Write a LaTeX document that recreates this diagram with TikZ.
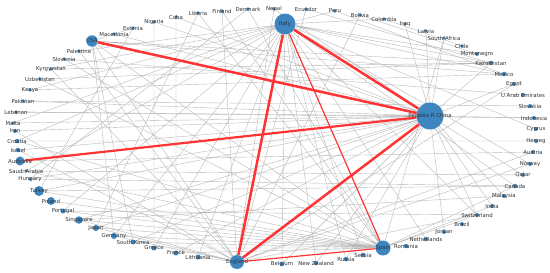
\documentclass[tikz,border=0pt]{standalone}
\usepackage{fontspec}
\setmainfont{DejaVu Sans}
\usepackage{tikz}
\usetikzlibrary{backgrounds}
\definecolor{NodeBlue}{HTML}{3D85BF}
\definecolor{EdgeGray}{HTML}{B9B9B9}
\definecolor{LinkRed}{HTML}{FF3333}
\definecolor{LabelGray}{HTML}{333333}
\tikzset{
  % country dot, size = weight
  CD/.style={circle,inner sep=0pt,fill=NodeBlue,minimum size=#1},
  CD/.default=3.6pt,
  % country label (centred on the dot)
  every label/.style={font=\fontsize{5.4}{6}\selectfont,text=LabelGray,inner sep=0pt},
  % links
  gE/.style={draw=EdgeGray,line width=0.4pt},
  rE/.style={draw=LinkRed,line width=#1},
  rE/.default=2.5pt
}

\begin{document}
\begin{tikzpicture}[x=1pt,y=-1pt]
  \useasboundingbox (0,0) rectangle (550,273);
  % top arc
  \node[CD=11.5pt,label=center:USA]        (usa)  at (92,41)  {};
  \node[CD,label=center:Macedonia]         (mace) at (114,34) {};
  \node[CD,label=center:Estonia]           (est)  at (133,28) {};
  \node[CD,label=center:Nigeria]           (nig)  at (154,22) {};
  \node[CD,label=center:Cuba]              (cuba) at (176,17) {};
  \node[CD,label=center:Liberia]           (lib)  at (198,13) {};
  \node[CD,label=center:Finland]           (fin)  at (222,11) {};
  \node[CD,label=center:Denmark]           (den)  at (248,9)  {};
  \node[CD,label=center:Nepal]             (nep)  at (274,9)  {};
  \node[CD=21pt,label=center:Italy]        (ita)  at (285,24) {};
  \node[CD,label=center:Ecuador]           (ecu)  at (306,9)  {};
  \node[CD,label=center:Peru]              (peru) at (335,11) {};
  \node[CD,label=center:Bolivia]           (bol)  at (360,15) {};
  \node[CD,label=center:Colombia]          (col)  at (384,19) {};
  \node[CD,label=center:Iraq]              (iraq) at (405,24) {};
  \node[CD,label=center:Latvia]            (lat)  at (426,31) {};
  \node[CD,label=center:South Africa]      (saf)  at (444,38) {};
  \node[CD,label=center:Chile]             (chile)at (462,46) {};
  % right arc
  \node[CD=4pt,label=center:Montenegro]    (mont) at (477,54) {};
  \node[CD=4.5pt,label=center:Kazakhstan]  (kaz)  at (491,63) {};
  \node[CD=4.5pt,label=center:Mexico]      (mex)  at (504,74) {};
  \node[CD=4pt,label=center:Egypt]         (egy)  at (514,84) {};
  \node[CD=4pt,label=center:U Arab Emirates](uae) at (523,95) {};
  \node[CD=4pt,label=center:Slovakia]      (slk)  at (530,106){};
  \node[CD=4pt,label=center:Indonesia]     (indo) at (534,118){};
  \node[CD=4pt,label=center:Cyprus]        (cyp)  at (536,129){};
  \node[CD=4pt,label=center:Herzeg]        (herz) at (536,141){};
  \node[CD=4pt,label=center:Austria]       (ausa) at (533,152){};
  \node[CD=4pt,label=center:Norway]        (nor)  at (530,164){};
  \node[CD=4pt,label=center:Qatar]         (qat)  at (523,175){};
  \node[CD=4.5pt,label=center:Canada]      (can)  at (515,186){};
  \node[CD=4pt,label=center:Malaysia]      (mal)  at (504,196){};
  \node[CD=4pt,label=center:India]         (ind)  at (492,206){};
  \node[CD=4pt,label=center:Switzerland]   (swi)  at (477,215){};
  \node[CD=4pt,label=center:Brazil]        (bra)  at (462,224){};
  \node[CD=4pt,label=center:Jordan]        (jor)  at (444,232){};
  \node[CD=4.5pt,label=center:Netherlands] (net)  at (426,239){};
  \node[CD=4.5pt,label=center:Romania]     (rom)  at (406,246){};
  \node[CD=27pt,label=center:Peoples R China](chn) at (430,116){};
  % bottom arc
  \node[CD=15pt,label=center:Spain]        (spa)  at (383,248){};
  \node[CD=4.5pt,label=center:Serbia]      (ser)  at (363,255){};
  \node[CD=4.5pt,label=center:Russia]      (rus)  at (346,259){};
  \node[CD=4.5pt,label=center:New Zealand] (nz)   at (316,263){};
  \node[CD=4.5pt,label=center:Belgium]     (bel)  at (282,264){};
  \node[CD=14pt,label=center:England]      (eng)  at (237,262){};
  \node[CD=5pt,label=center:Lithuania]     (lit)  at (198,257){};
  \node[CD=5pt,label=center:France]        (fra)  at (176,253){};
  \node[CD=5pt,label=center:Greece]        (gre)  at (154,248){};
  \node[CD=5pt,label=center:South Korea]   (skor) at (133,242){};
  \node[CD=6pt,label=center:Germany]       (ger)  at (114,236){};
  \node[CD=6pt,label=center:Japan]         (jap)  at (96,228) {};
  \node[CD=7.5pt,label=center:Singapore]   (sing) at (79,220) {};
  \node[CD=5pt,label=center:Portugal]      (por)  at (63,211) {};
  \node[CD=8pt,label=center:Poland]        (pol)  at (51,201) {};
  \node[CD=10pt,label=center:Turkey]       (tur)  at (39,191) {};
  % left arc
  \node[CD,label=center:Hungary]           (hun)  at (30,179) {};
  \node[CD,label=center:Saudi Arabia]      (sau)  at (26,171) {};
  \node[CD=9pt,label=center:Australia]     (ausl) at (20,161) {};
  \node[CD=4.5pt,label=center:Israel]      (isr)  at (18,150) {};
  \node[CD=4.5pt,label=center:Croatia]     (cro)  at (17,141) {};
  \node[CD=4pt,label=center:Iran]          (iran) at (15,131) {};
  \node[CD,label=center:Malta]             (malt) at (13,123) {};
  \node[CD,label=center:Lebanon]           (leb)  at (16,112) {};
  \node[CD,label=center:Pakistan]          (pak)  at (23,101) {};
  \node[CD,label=center:Kenya]             (ken)  at (30,90)  {};
  \node[CD,label=center:Uzbekistan]        (uzb)  at (40,79)  {};
  \node[CD,label=center:Kyrgyzstan]        (kyr)  at (51,69)  {};
  \node[CD,label=center:Slovenia]          (slv)  at (64,59)  {};
  \node[CD,label=center:Palestine]         (pal)  at (79,51)  {};

  \begin{scope}[on background layer]
    % Italy
    \draw[gE] (ita)--(pal) (ita)--(kyr) (ita)--(ken) (ita)--(malt) (ita)--(cro) (ita)--(sau);
    \draw[gE] (ita)--(por) (ita)--(ger) (ita)--(gre) (ita)--(lit) (ita)--(bel) (ita)--(nz);
    \draw[gE] (ita)--(rus) (ita)--(ser) (ita)--(net) (ita)--(swi) (ita)--(can) (ita)--(nor);
    \draw[gE] (ita)--(cyp) (ita)--(mex) (ita)--(kaz) (ita)--(mont) (ita)--(peru) (ita)--(col);
    % China
    \draw[gE] (chn)--(mace) (chn)--(nig) (chn)--(cuba) (chn)--(nep) (chn)--(iraq) (chn)--(lat);
    \draw[gE] (chn)--(saf) (chn)--(kaz) (chn)--(pak) (chn)--(leb) (chn)--(malt) (chn)--(iran);
    \draw[gE] (chn)--(isr) (chn)--(hun) (chn)--(tur) (chn)--(sing) (chn)--(jap) (chn)--(skor);
    \draw[gE] (chn)--(fra) (chn)--(bel) (chn)--(nz) (chn)--(rus) (chn)--(jor) (chn)--(swi);
    \draw[gE] (chn)--(ind) (chn)--(mal) (chn)--(qat) (chn)--(indo) (chn)--(egy);
    % Spain
    \draw[gE] (spa)--(usa) (spa)--(slv) (spa)--(uzb) (spa)--(cro) (spa)--(sau) (spa)--(tur);
    \draw[gE] (spa)--(pol) (spa)--(por) (spa)--(sing) (spa)--(jap) (spa)--(ger) (spa)--(skor);
    \draw[gE] (spa)--(gre) (spa)--(fra) (spa)--(fin) (spa)--(lib) (spa)--(den) (spa)--(saf);
    \draw[gE] (spa)--(ind) (spa)--(can) (spa)--(swi);
    % England
    \draw[gE] (eng)--(usa) (eng)--(pal) (eng)--(kyr) (eng)--(iran) (eng)--(isr) (eng)--(sing);
    \draw[gE] (eng)--(jap) (eng)--(ger) (eng)--(lit) (eng)--(ecu) (eng)--(nep) (eng)--(fin);
    \draw[gE] (eng)--(bol) (eng)--(egy) (eng)--(ausa) (eng)--(nor) (eng)--(swi);
    % USA and the rest
    \draw[gE] (usa)--(mace) (usa)--(est) (usa)--(kaz) (usa)--(mex) (usa)--(ger) (usa)--(skor);
    \draw[gE] (cro)--(herz) (kyr)--(kaz) (uzb)--(kaz) (ken)--(mex) (pak)--(slk) (leb)--(indo);
    \draw[gE] (sau)--(qat) (hun)--(can) (por)--(swi) (sing)--(mal) (ecu)--(kaz) (peru)--(mex);
    \draw[gE] (bol)--(mont) (col)--(chile) (nig)--(gre) (cuba)--(fra) (lib)--(jap) (den)--(hun);
    \draw[gE] (est)--(tur) (ausl)--(ausa) (tur)--(can) (slv)--(uae);
    % strongest links
    \draw[rE] (usa)--(chn);
    \draw[rE] (ita)--(chn);
    \draw[rE] (ita)--(eng);
    \draw[rE] (chn)--(eng);
    \draw[rE=2.2pt] (ausl)--(chn);
    \draw[rE=1.2pt] (ita)--(spa);
    \draw[rE=1.2pt] (eng)--(spa);
  \end{scope}
\end{tikzpicture}
\end{document}
